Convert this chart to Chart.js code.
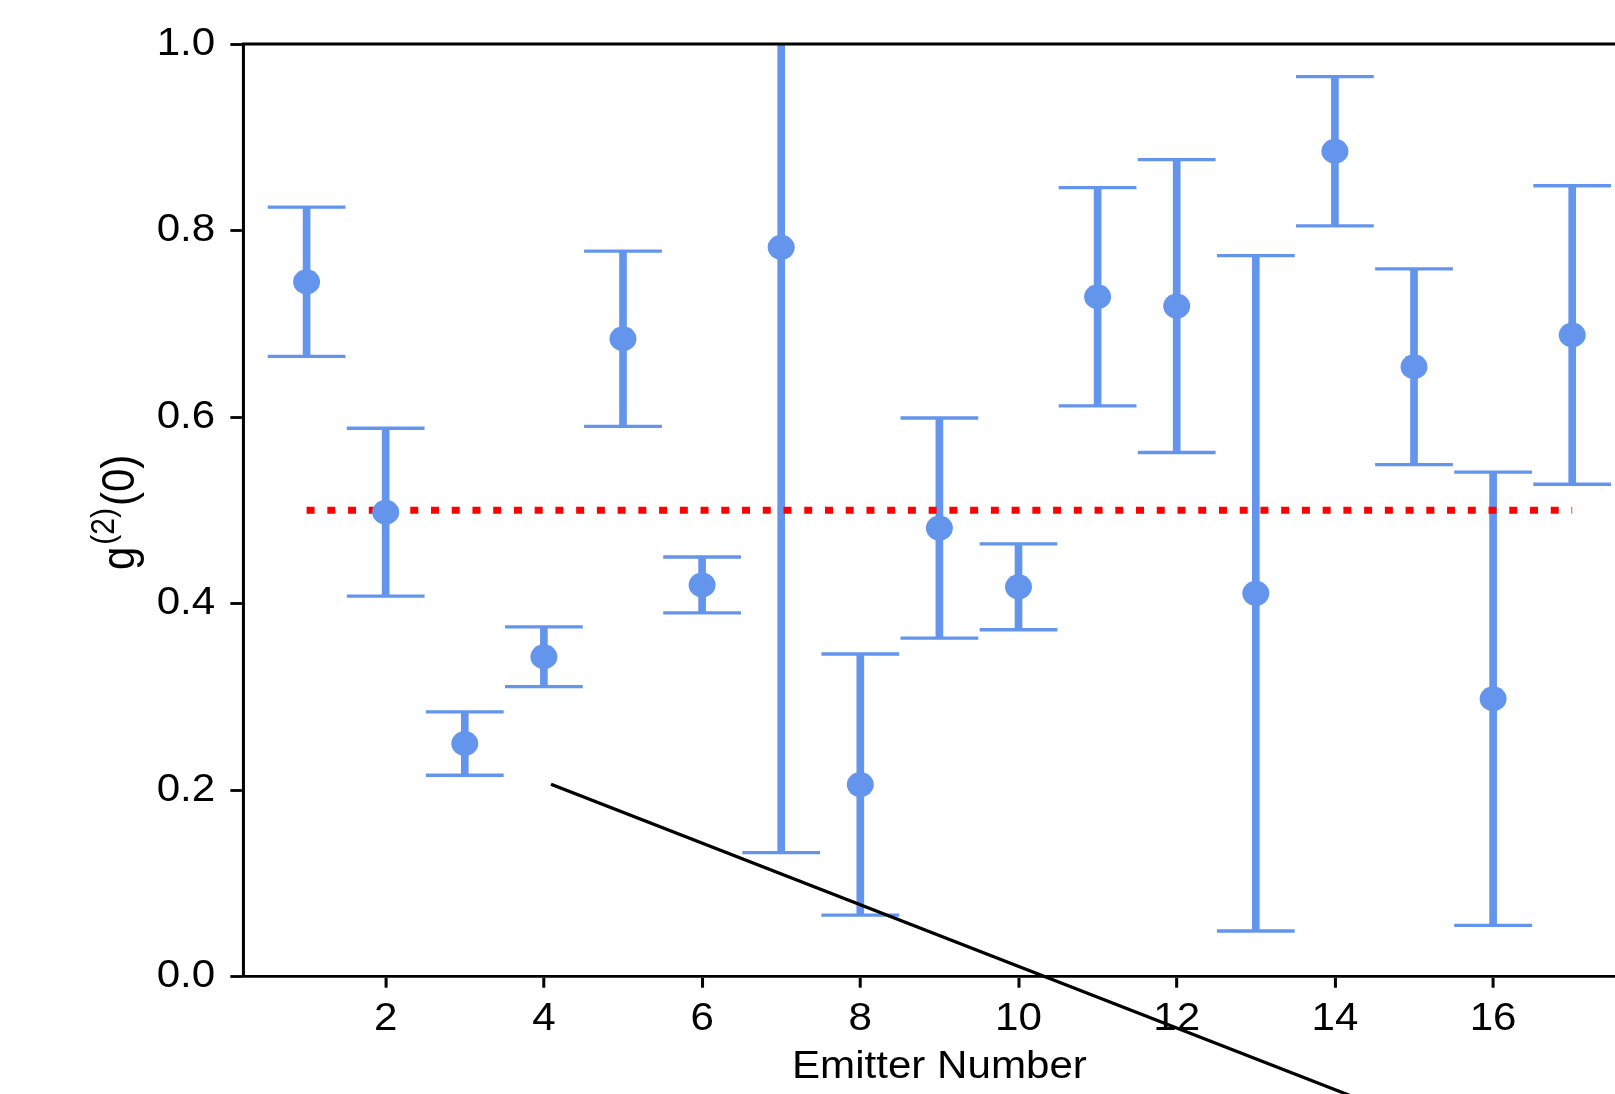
<!DOCTYPE html>
<html>
<head>
<meta charset="utf-8">
<script src="https://cdn.jsdelivr.net/npm/chart.js@4.4.1/dist/chart.umd.min.js"></script>
<style>
html,body{margin:0;padding:0;overflow:hidden;background:#ffffff;width:1615px;height:1094px}
canvas{display:block}
</style>
</head>
<body>
<canvas id="c" width="1615" height="1094"></canvas>
<script>
// ---- data ----
const emitterNumbers = [1,2,3,4,5,6,7,8,9,10,11,12,13,14,15,16,17];
const g2Values = [0.745,0.498,0.250,0.343,0.684,0.420,0.782,0.206,0.481,0.418,0.729,0.719,0.411,0.885,0.654,0.298,0.688];
const g2Errors = [0.080,0.090,0.034,0.032,0.094,0.030,0.649,0.140,0.118,0.046,0.117,0.157,0.362,0.080,0.105,0.243,0.160];
const thresholdX = [1, 17];
const thresholdY = [0.5, 0.5];
const guideLineX = [4.09, 14.5];
const guideLineY = [0.2063, -0.1376];
const xTickValues = [2,4,6,8,10,12,14,16];
const yTickValues = [0.0,0.2,0.4,0.6,0.8,1.0];
const xLabel = 'Emitter Number';

// ---- style ----
const SX = 1.08;            // horizontal stretch of the whole drawing
const BLUE = '#6495ED';
const FONT = "'Liberation Sans', Arial, Helvetica, sans-serif";

const pts = emitterNumbers.map((x,i)=>({x:x, y:g2Values[i]}));
const thr = thresholdX.map((x,i)=>({x:x, y:thresholdY[i]}));
const guide = guideLineX.map((x,i)=>({x:x, y:guideLineY[i]}));

const drawPlugin = {
  id: 'drawPlugin',
  beforeDraw(chart){
    chart.ctx.save();
    chart.ctx.scale(SX, 1);
  },
  beforeDatasetsDraw(chart){
    const ctx = chart.ctx, a = chart.chartArea;
    const xs = chart.scales.x, ys = chart.scales.y;
    ctx.save();
    ctx.beginPath();
    ctx.rect(a.left, a.top, a.right - a.left, a.bottom - a.top);
    ctx.clip();
    ctx.strokeStyle = BLUE;
    for (let i = 0; i < emitterNumbers.length; i++) {
      const px = xs.getPixelForValue(emitterNumbers[i]);
      const yT = ys.getPixelForValue(g2Values[i] + g2Errors[i]);
      const yB = ys.getPixelForValue(g2Values[i] - g2Errors[i]);
      ctx.lineWidth = 7.1;
      ctx.lineCap = 'butt';
      ctx.beginPath();
      ctx.moveTo(px, yT); ctx.lineTo(px, yB);
      ctx.stroke();
      ctx.lineWidth = 3.3;
      const hw = 36;
      ctx.beginPath();
      ctx.moveTo(px - hw, yT); ctx.lineTo(px + hw, yT);
      ctx.moveTo(px - hw, yB); ctx.lineTo(px + hw, yB);
      ctx.stroke();
    }
    ctx.restore();
    // top and right frame
    ctx.save();
    ctx.strokeStyle = '#000';
    ctx.lineWidth = 2.8;
    ctx.beginPath();
    ctx.moveTo(a.left - 1.4, a.top); ctx.lineTo(a.right, a.top); ctx.lineTo(a.right, a.bottom);
    ctx.stroke();
    ctx.restore();
  },
  afterDraw(chart){
    const ctx = chart.ctx, a = chart.chartArea;
    ctx.save();
    ctx.fillStyle = '#000';
    // x title
    ctx.font = '39px ' + FONT;
    ctx.textAlign = 'center';
    ctx.textBaseline = 'alphabetic';
    ctx.fillText(xLabel, (a.left + a.right) / 2, 1078);
    // y title g^(2)(0)
    const cy = (a.top + a.bottom) / 2 + 2;
    ctx.translate(124, cy);
    ctx.rotate(-Math.PI / 2);
    ctx.textAlign = 'left';
    const big = '42px ' + FONT, small = '30px ' + FONT;
    ctx.font = big;
    const wG = ctx.measureText('g').width, wP = ctx.measureText('(0)').width;
    ctx.font = small;
    const wS = ctx.measureText('(2)').width;
    let x = -(wG + wS + wP + 4) / 2;
    ctx.font = big; ctx.fillText('g', x, 0); x += wG + 2;
    ctx.font = small; ctx.fillText('(2)', x, -18); x += wS + 2;
    ctx.font = big; ctx.fillText('(0)', x, 0);
    ctx.restore();
    chart.ctx.restore();
  }
};

new Chart(document.getElementById('c'), {
  type: 'scatter',
  data: {
    datasets: [
      { label: 'guide', data: guide, showLine: true, borderColor: '#000', borderWidth: 3.2,
        pointRadius: 0, clip: false, order: -1 },
      { label: 'g2', data: pts, backgroundColor: BLUE, borderWidth: 0, pointRadius: 12.5,
        pointHoverRadius: 12.5, order: 0 },
      { label: 'threshold', data: thr, showLine: true, borderColor: '#ff0000', borderWidth: 7,
        borderDash: [7.4, 11.8], borderCapStyle: 'butt', pointRadius: 0, order: 1 }
    ]
  },
  options: {
    responsive: false,
    animation: false,
    devicePixelRatio: 1,
    events: [],
    layout: { padding: { top: 44, right: 1615 - 1635.5 / SX, left: 0, bottom: 0 } },
    plugins: { legend: { display: false }, tooltip: { enabled: false }, title: { display: false } },
    scales: {
      x: {
        type: 'linear', min: 0.2, max: 17.8,
        afterBuildTicks: s => { s.ticks = xTickValues.map(v => ({ value: v })); },
        afterFit: s => { s.height = 1094 - 976.7; },
        ticks: { color: '#000', font: { size: 39, family: FONT }, padding: 8,
                 maxRotation: 0, autoSkip: false, callback: v => String(v) },
        grid: { drawOnChartArea: false, drawTicks: true, tickLength: 11, tickWidth: 2.8, tickColor: '#000' },
        border: { display: true, color: '#000', width: 2.8 }
      },
      y: {
        type: 'linear', min: 0, max: 1,
        afterBuildTicks: s => { s.ticks = yTickValues.map(v => ({ value: v })); },
        afterFit: s => { s.width = 243.3 / SX; },
        ticks: { color: '#000', font: { size: 39, family: FONT }, padding: 14,
                 callback: v => Number(v).toFixed(1) },
        grid: { drawOnChartArea: false, drawTicks: true, tickLength: 12, tickWidth: 2.8, tickColor: '#000' },
        border: { display: true, color: '#000', width: 2.8 }
      }
    }
  },
  plugins: [drawPlugin]
});
</script>
</body>
</html>
